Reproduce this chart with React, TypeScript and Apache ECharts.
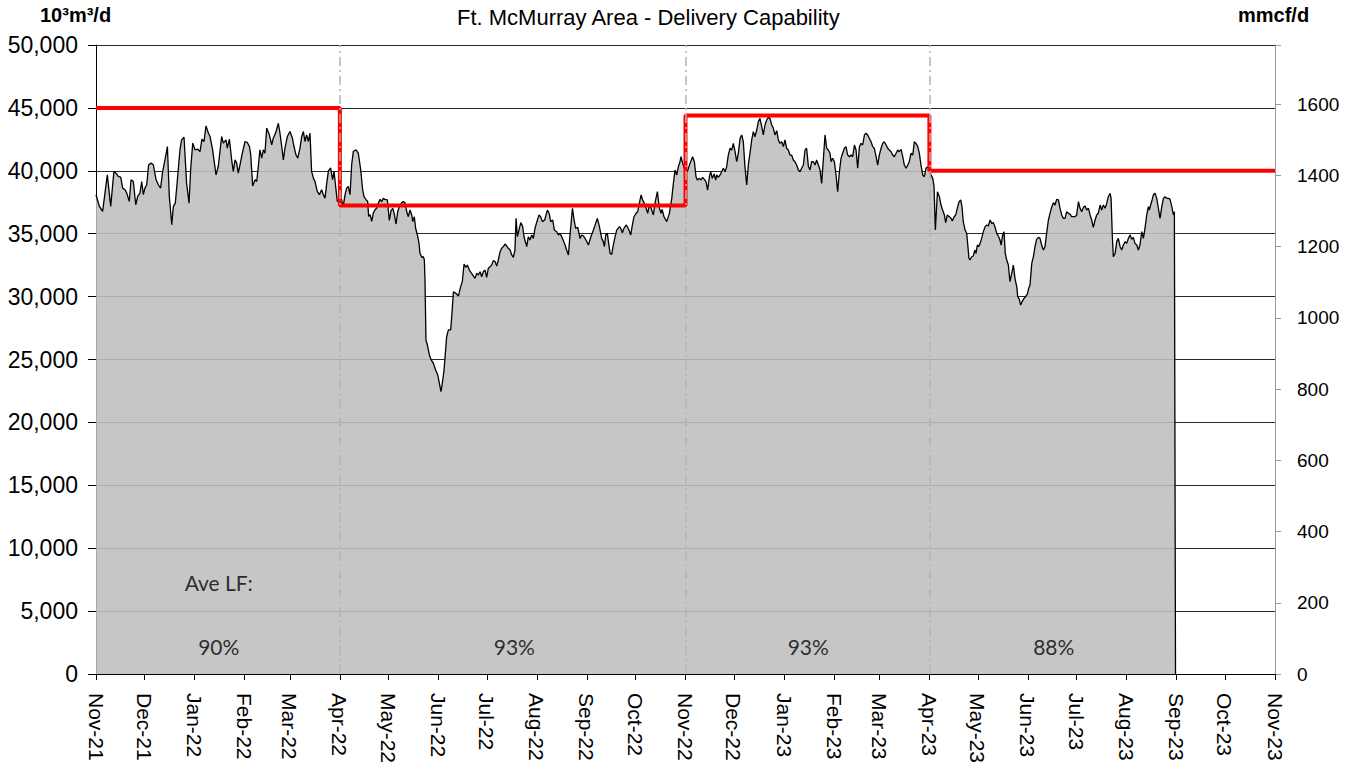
import React, { useEffect, useRef } from "react";
import * as echarts from "echarts";

// ---- axis / category data ----
const monthDays = [0, 30, 61, 92, 120, 151, 181, 212, 242, 273, 304, 334, 365, 395, 426, 457, 485, 516, 546, 577, 607, 638, 669, 699, 730];
const monthLabels = ["Nov-21", "Dec-21", "Jan-22", "Feb-22", "Mar-22", "Apr-22", "May-22", "Jun-22", "Jul-22", "Aug-22", "Sep-22", "Oct-22", "Nov-22", "Dec-22", "Jan-23", "Feb-23", "Mar-23", "Apr-23", "May-23", "Jun-23", "Jul-23", "Aug-23", "Sep-23", "Oct-23", "Nov-23"];

// ---- delivered flow, 10^3 m3/d, [days since 1 Nov 2021, value] ----
const deliveredFlow: [number, number][] = [
  [0, 38100], [2.1, 37170], [4.1, 36770], [7.0, 39680], [9.1, 37170], [11.1, 39950], [12.4, 39810], [13.8, 39550], [15.3, 39500], [16.5, 38620],
  [18.0, 38490], [19.0, 38230], [20.6, 37570], [21.7, 39290], [23.1, 39150], [24.6, 37300], [25.8, 37960], [27.2, 38230], [28.3, 39150], [29.3, 38100],
  [30.3, 38620], [31.4, 38890], [32.6, 40480], [34.1, 40610], [35.5, 40480], [37.2, 39290], [38.6, 38890], [40.0, 38620], [41.3, 39950], [42.7, 40870],
  [44.2, 41930], [45.4, 37960], [46.9, 35710], [47.9, 37170], [49.1, 37430], [50.4, 39290], [52.0, 41670], [53.0, 42460], [54.5, 42670], [56.1, 39020],
  [57.6, 37430], [58.6, 40080], [59.9, 42200], [61.3, 41670], [62.9, 41720], [64.4, 41530], [65.6, 42510], [66.9, 42330], [68.1, 43570], [69.6, 42990],
  [70.6, 42730], [72.2, 41670], [74.3, 39680], [75.7, 40340], [77.8, 42730], [78.8, 42200], [80.5, 42460], [81.3, 41800], [82.6, 42510],
  [84.0, 40870], [85.0, 39950], [86.1, 40870], [87.1, 40610], [88.1, 39820], [89.6, 40740], [90.8, 41530], [92.3, 42330], [93.7, 42250], [95.0, 41930],
  [95.8, 41270], [97.0, 38800], [98.5, 39290], [99.5, 39150], [100.5, 40350], [101.5, 41670], [102.6, 41000], [103.6, 41670], [104.6, 41400], [105.7, 43390],
  [107.3, 42860], [108.8, 42070], [109.8, 42600], [111.2, 43000], [112.9, 43780], [113.9, 43000], [115.0, 41930], [116.0, 40870], [117.0, 41800], [118.5, 42730],
  [120.1, 43120], [121.6, 42600], [122.6, 41930], [123.8, 41270], [124.9, 41000], [126.3, 41800], [127.4, 42730], [128.4, 43120], [129.4, 42330], [130.4, 42860],
  [131.5, 42330], [132.5, 42990], [133.5, 39950], [134.6, 39420], [135.6, 39150], [137.0, 38360], [138.3, 38100], [139.7, 38490], [140.8, 38100], [141.8, 37830],
  [142.8, 38940], [143.9, 40000], [145.3, 40220], [146.5, 39290], [147.4, 39950], [148.6, 38490], [149.4, 37570], [150.7, 37700], [152.1, 37700], [153.1, 37170],
  [154.2, 38100], [155.2, 38620], [156.2, 38760], [157.3, 38100], [158.3, 40480], [159.3, 41530], [161.0, 41670], [162.4, 41400], [163.9, 40080], [165.1, 38490],
  [165.9, 37960], [167.2, 37700], [168.2, 37570], [168.8, 36380], [169.7, 36510], [170.7, 35980], [171.7, 36640], [172.8, 36910], [173.8, 37040], [174.8, 37430],
  [175.9, 37730], [176.9, 37550], [177.9, 37810], [178.9, 37730], [180.4, 37680], [181.6, 36060], [182.7, 36830], [183.7, 37020], [184.5, 36670], [185.8, 35770],
  [186.8, 36750], [187.8, 37150], [189.3, 37470], [190.3, 37550], [191.3, 37470], [192.4, 36750], [193.4, 36350], [194.4, 36880], [195.5, 36490], [196.1, 35960],
  [197.1, 36350], [197.9, 35430], [199.0, 34900], [200.0, 34230], [200.6, 33440], [201.7, 33120], [202.7, 33170], [203.3, 32910], [203.7, 31320], [204.3, 26550],
  [205.2, 26150], [206.4, 25360], [207.4, 25010], [208.9, 24690], [210.3, 24160], [211.6, 23770], [212.6, 23100], [213.6, 22440], [214.7, 23370], [215.5, 24160],
  [216.3, 25490], [217.1, 26810], [218.2, 27350], [219.6, 27350], [220.4, 28670], [221.3, 30390], [222.9, 30260], [224.4, 30050], [225.8, 30790], [226.8, 31190],
  [227.9, 32590], [228.9, 32330], [229.9, 32510], [231.2, 32110], [232.2, 31900], [233.2, 31720], [234.7, 31450], [235.7, 31850], [236.7, 31720], [237.8, 31980],
  [238.8, 31580], [239.8, 31980], [240.9, 32110], [241.9, 31530], [242.9, 32250], [244.0, 32380], [245.0, 32510], [246.0, 32860], [247.1, 32780], [248.1, 32430],
  [249.1, 32910], [250.2, 33570], [251.2, 33840], [252.2, 33970], [253.3, 34180], [254.3, 34020], [255.3, 33840], [256.4, 33700], [257.4, 33310], [258.4, 33120],
  [259.4, 33700], [260.1, 36220], [260.9, 34760], [263.0, 35880], [264.2, 35560], [265.0, 34760], [266.7, 33970], [267.7, 34760], [268.7, 34500], [269.8, 34900],
  [270.8, 34630], [271.8, 35430], [273.3, 36090], [274.3, 36490], [275.3, 36350], [276.4, 35960], [277.8, 36090], [279.5, 36880], [280.7, 36560], [281.5, 35960],
  [282.8, 36090], [283.8, 35290], [285.3, 35160], [286.3, 34900], [287.3, 35030], [288.8, 34630], [290.4, 34100], [291.4, 33700], [292.5, 33310], [293.5, 34900],
  [295.0, 37020], [296.0, 36090], [297.0, 35430], [298.3, 35510], [299.7, 34630], [300.7, 34900], [301.8, 34820], [303.4, 34500], [304.9, 34100], [306.3, 34710],
  [308.0, 35290], [310.4, 36220], [311.7, 35560], [313.1, 34630], [314.1, 34370], [314.8, 33970], [315.6, 34900], [316.6, 35030], [317.7, 33970], [318.3, 33440],
  [319.3, 33360], [320.3, 34100], [321.4, 34760], [322.4, 35290], [324.1, 35560], [324.9, 35430], [325.9, 35080], [326.9, 35430], [328.2, 35690], [329.0, 35560],
  [330.0, 35290], [331.1, 34900], [332.1, 35690], [333.1, 36350], [334.4, 36620], [335.4, 36750], [336.2, 37280], [337.5, 38080], [338.5, 37680], [339.5, 37410],
  [340.6, 37020], [341.6, 36620], [342.6, 37280], [343.7, 37020], [345.1, 36490], [346.3, 37550], [347.6, 38340], [348.8, 37020], [349.9, 36620], [350.5, 36940],
  [351.7, 36350], [353.4, 35960], [355.0, 36620], [356.5, 37810], [357.5, 39000], [358.5, 40060], [359.6, 39670], [360.6, 40330], [361.6, 40720], [362.2, 41120],
  [363.3, 40590], [364.2, 40200], [366.1, 39930], [367.8, 40590], [369.4, 41120], [370.5, 40720], [371.5, 39530], [372.3, 39270], [373.6, 39400], [374.6, 39270],
  [375.6, 39480], [376.7, 39320], [377.7, 39140], [378.7, 38470], [379.8, 39530], [380.6, 39930], [381.6, 39400], [382.7, 39750], [383.7, 39270], [384.3, 39670],
  [385.3, 39480], [386.4, 39670], [387.4, 39930], [388.4, 40200], [389.5, 39930], [390.5, 40330], [391.5, 41250], [392.6, 41790], [393.6, 41650], [394.6, 42180],
  [395.7, 41520], [396.7, 40720], [397.7, 41390], [398.8, 42580], [399.8, 42850], [400.8, 42310], [401.8, 40330], [402.9, 38870], [403.9, 40460], [404.9, 41390],
  [406.0, 42450], [407.0, 43110], [408.0, 42710], [409.1, 43240], [410.1, 43900], [411.1, 44170], [412.2, 43510], [413.2, 42850], [414.2, 43640], [415.3, 44040],
  [416.3, 44250], [417.3, 44170], [418.4, 43640], [419.4, 43380], [420.4, 42850], [421.5, 43190], [422.5, 42450], [423.5, 42180], [424.6, 42310], [425.6, 41920],
  [426.6, 42450], [427.6, 41790], [428.7, 41650], [429.7, 41250], [430.7, 41250], [431.8, 40860], [432.8, 40720], [433.8, 40460], [434.9, 40060], [435.9, 39930],
  [436.9, 40200], [438.0, 40460], [439.0, 41650], [440.0, 41790], [441.1, 40330], [442.1, 40060], [443.1, 40720], [444.2, 40720], [445.2, 40460], [446.2, 40860],
  [447.3, 40460], [448.3, 40060], [449.3, 39000], [450.4, 40990], [451.4, 42850], [452.4, 41790], [453.4, 41650], [454.5, 41390], [455.1, 40720], [456.1, 40990],
  [457.2, 40720], [458.2, 39670], [459.2, 38340], [460.3, 39930], [461.3, 40990], [462.3, 41390], [463.4, 41790], [464.4, 41920], [465.4, 41250], [466.5, 41120],
  [467.5, 41250], [468.5, 41120], [469.6, 42050], [470.6, 41650], [471.6, 40200], [472.7, 41920], [473.7, 42180], [474.7, 42050], [475.8, 42850], [476.8, 42980],
  [477.8, 42850], [478.8, 42580], [479.9, 42310], [480.9, 41920], [481.9, 41790], [483.0, 41120], [484.0, 40460], [485.0, 41250], [486.1, 41790], [487.1, 42180],
  [488.1, 42310], [489.2, 42050], [490.2, 41790], [491.2, 41650], [492.3, 41520], [493.3, 41250], [494.3, 41120], [495.4, 41390], [496.4, 41650], [497.4, 41520],
  [498.5, 41700], [499.5, 41120], [500.5, 40460], [501.6, 40200], [502.6, 40460], [503.6, 40720], [504.6, 41390], [505.7, 41250], [506.7, 42310], [507.7, 42180],
  [508.8, 41920], [509.8, 41390], [510.8, 40460], [511.9, 39670], [512.9, 39530], [513.9, 40200], [515.0, 40330], [516.0, 40060], [517.0, 39670], [518.1, 39400],
  [518.9, 38740], [519.7, 35300], [521.0, 38340], [522.2, 37940], [523.2, 37280], [524.2, 36880], [525.3, 36490], [526.1, 35880], [527.1, 36490], [528.4, 36350],
  [529.4, 36220], [530.2, 36010], [531.3, 36350], [532.3, 36490], [533.3, 37020], [534.4, 37550], [535.4, 37680], [536.2, 37150], [537.0, 35960], [538.1, 35290],
  [539.1, 35030], [539.7, 34230], [540.5, 33040], [541.2, 32910], [542.2, 33170], [543.2, 33230], [544.1, 33700], [544.9, 33440], [545.7, 34100], [546.5, 33970],
  [547.4, 34230], [548.4, 34630], [549.4, 35160], [550.5, 35560], [551.5, 35690], [552.5, 35610], [553.6, 36090], [554.6, 35820], [555.6, 35880], [556.6, 35560],
  [557.7, 35030], [558.7, 34820], [559.7, 34500], [560.4, 34100], [561.4, 34900], [562.2, 35160], [563.0, 33440], [563.9, 32910], [564.9, 32510], [565.9, 31190],
  [567.0, 31850], [568.0, 32510], [569.0, 31450], [570.1, 30790], [570.7, 29990], [571.7, 29780], [572.5, 29330], [573.4, 29600], [574.6, 29860], [575.6, 29990],
  [576.7, 30210], [577.5, 30660], [578.3, 30920], [579.4, 32640], [580.4, 33170], [581.4, 33970], [582.4, 34550], [583.5, 34710], [584.5, 34630], [585.5, 34100],
  [586.6, 33700], [587.6, 33970], [588.6, 35030], [589.7, 36090], [590.7, 36620], [591.7, 37100], [592.8, 37470], [593.8, 37280], [594.8, 37730], [595.9, 37680],
  [596.9, 37020], [597.9, 36490], [599.0, 36220], [600.0, 36220], [601.0, 36750], [602.1, 36620], [603.1, 36560], [604.1, 36350], [605.2, 36350], [606.2, 36350],
  [607.2, 36490], [608.3, 37550], [609.3, 37020], [610.3, 36750], [611.4, 37100], [612.4, 37200], [613.4, 36880], [614.5, 37020], [615.5, 36490], [616.5, 36090],
  [617.5, 35510], [618.6, 36090], [619.6, 36490], [620.6, 36620], [621.7, 37280], [622.7, 36880], [623.7, 37280], [624.8, 37020], [625.8, 37410], [626.8, 37940],
  [627.9, 38210], [628.5, 37810], [629.3, 34760], [629.9, 33170], [631.0, 33440], [632.0, 34370], [633.0, 34630], [634.1, 33970], [635.1, 33700], [636.1, 34100],
  [637.2, 34370], [638.2, 34230], [639.2, 34630], [640.3, 34900], [641.3, 34550], [642.3, 34710], [643.3, 34230], [644.4, 34100], [645.4, 33700], [646.4, 34100],
  [647.5, 35160], [648.5, 34630], [649.5, 35430], [650.6, 36490], [651.6, 37150], [652.2, 36880], [653.0, 37280], [653.9, 37680], [654.7, 38080], [655.7, 38210],
  [656.8, 37810], [657.8, 37020], [658.8, 36220], [659.9, 37150], [660.9, 37810], [661.9, 37940], [663.0, 37810], [664.0, 37810], [665.0, 37750], [666.1, 37150],
  [667.1, 36490], [667.7, 36750], [668.4, 0],
];

// ---- delivery capability (red step line) ----
const capacityDay = [0, 151, 151, 365, 365, 516, 516, 730];
const capacityValue = [45000, 45000, 37250, 37250, 44400, 44400, 40000, 40000];

// ---- season boundaries and average load factors ----
const seasonBreakDays = [151, 365, 516];
const lfLabels = ["90%", "93%", "93%", "88%"];
const lfDays = [76, 259, 441, 593];
const lfLevel = 2150;
const aveLfTitle = "Ave LF:";
const aveLfPos: [number, number] = [76, 7300];

const M3_PER_MMCF = 28.317;
const Y_MAX = 50000;

const FONT = "'Liberation Sans', Arial, sans-serif";

export default function App() {
  const ref = useRef<HTMLDivElement>(null);
  useEffect(() => {
    if (!ref.current) return;
    const chart = echarts.init(ref.current, null, { renderer: "svg" });
    const option: any = {
      animation: false,
      backgroundColor: "#ffffff",
      textStyle: { fontFamily: FONT },
      title: {
        text: "Ft. McMurray Area - Delivery Capability",
        left: 452,
        top: 1,
        textStyle: { fontFamily: FONT, fontSize: 22, fontWeight: "normal", color: "#000" },
      },
      graphic: [
        { type: "text", left: 40, top: 5, style: { text: "10³m³/d", fontFamily: FONT, fontSize: 20, fontWeight: "bold", fill: "#000" } },
        { type: "text", left: 1238, top: 5, style: { text: "mmcf/d", fontFamily: FONT, fontSize: 20, fontWeight: "bold", fill: "#000" } },
      ],
      grid: { left: 96, right: 79, top: 45, bottom: 96 },
      xAxis: {
        type: "value",
        min: 0,
        max: 730,
        axisLine: { show: true, onZero: false, lineStyle: { color: "#000", width: 1 } },
        axisTick: { show: true, customValues: monthDays, length: 6, lineStyle: { color: "#000" } },
        axisLabel: {
          customValues: monthDays,
          rotate: -90,
          margin: 19,
          fontSize: 21,
          color: "#000",
          fontFamily: FONT,
          formatter: (v: number) => {
            const i = monthDays.indexOf(Math.round(v));
            return i >= 0 ? monthLabels[i] : "";
          },
        },
        splitLine: { show: false },
      },
      yAxis: [
        {
          type: "value",
          min: 0,
          max: Y_MAX,
          interval: 5000,
          position: "left",
          axisLine: { show: true, lineStyle: { color: "#000" } },
          axisTick: { show: true, length: 8, lineStyle: { color: "#000" } },
          axisLabel: {
            fontSize: 23,
            color: "#000",
            margin: 18,
            fontFamily: FONT,
            formatter: (v: number) => v.toLocaleString("en-US"),
          },
          splitLine: { show: true, lineStyle: { color: "#2a2a2a", width: 1 } },
        },
        {
          type: "value",
          min: 0,
          max: Y_MAX / M3_PER_MMCF,
          interval: 200,
          position: "right",
          axisLine: { show: true, lineStyle: { color: "#9a9a9a" } },
          axisTick: { show: true, length: 6, lineStyle: { color: "#9a9a9a" } },
          axisLabel: {
            fontSize: 19,
            color: "#000",
            margin: 22,
            fontFamily: FONT,
            formatter: (v: number) => (Math.abs(v % 200) < 1e-6 ? String(Math.round(v)) : ""),
          },
          splitLine: { show: false },
        },
      ],
      series: [
        {
          name: "Delivered",
          type: "line",
          data: deliveredFlow,
          symbol: "none",
          showSymbol: false,
          lineStyle: { color: "#000", width: 1.3 },
          areaStyle: { color: "#bebebe", opacity: 0.88, origin: "start" },
          z: 2,
        },
        {
          name: "breaks",
          type: "line",
          data: [],
          z: 3,
          markLine: {
            silent: true,
            symbol: "none",
            label: { show: false },
            lineStyle: { color: "#b4b4b4", width: 1.5, type: [9, 4, 2, 4] },
            data: seasonBreakDays.map((d) => ({ xAxis: d })),
          },
        },
        {
          name: "Capability",
          type: "line",
          data: capacityDay.map((d, i) => [d, capacityValue[i]]),
          symbol: "none",
          showSymbol: false,
          lineStyle: { color: "#ff0000", width: 4 },
          z: 4,
        },
        {
          name: "LF",
          type: "scatter",
          symbolSize: 0,
          data: [
            ...lfDays.map((d, i) => ({ value: [d, lfLevel], name: lfLabels[i] })),
            { value: aveLfPos, name: aveLfTitle },
          ],
          label: {
            show: true,
            position: "inside",
            formatter: (p: any) => p.name,
            fontFamily: "Lato, 'Open Sans', sans-serif",
            fontSize: 21,
            color: "#000",
          },
          z: 5,
        },
      ],
    };
    chart.setOption(option);
    return () => chart.dispose();
  }, []);
  return <div ref={ref} style={{ position: "absolute", left: 0, top: 0, width: 1354, height: 770 }} />;
}
